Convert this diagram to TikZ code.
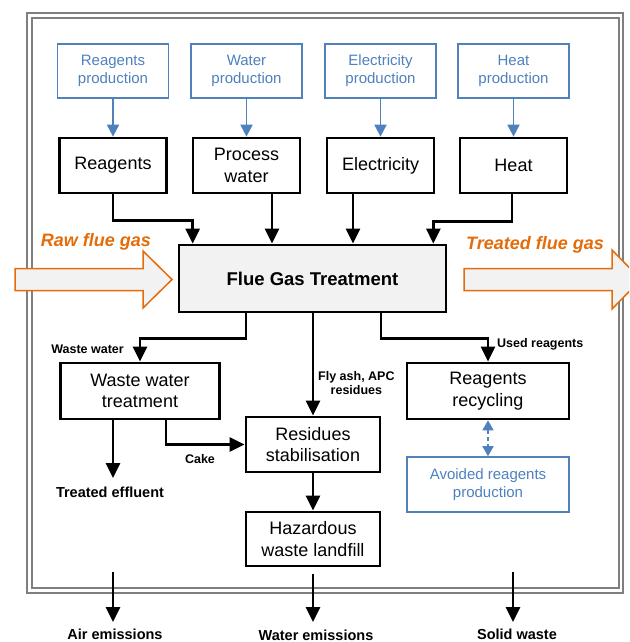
\documentclass[tikz,border=0pt]{standalone}
\usepackage{fontspec}
\setmainfont{Liberation Sans}
\usetikzlibrary{arrows.meta}
\definecolor{ablue}{HTML}{4F81BD}
\definecolor{aorange}{HTML}{E46C0A}
\definecolor{afill}{HTML}{F2F2F2}
\definecolor{agray}{HTML}{7F7F7F}
\begin{document}
\begin{tikzpicture}[x=1pt,y=-1pt,
 bluebox/.style={draw=ablue, line width=1.6pt, minimum width=111pt, minimum height=54pt, align=center, text=ablue, font=\fontsize{15}{18}\selectfont, inner sep=0pt},
 blackbox/.style={draw=black, line width=2.7pt, minimum width=107pt, minimum height=55pt, align=center, font=\fontsize{18}{21.5}\selectfont, inner sep=0pt},
 flow/.style={line width=2.7pt, -{Triangle[length=15pt,width=14pt]}},
 blueflow/.style={draw=ablue, line width=1.8pt, -{Triangle[length=12pt,width=12pt]}},
 lbl/.style={font=\bfseries\fontsize{12.5}{14.5}\selectfont, align=center, inner sep=0pt},
 outlbl/.style={font=\bfseries\fontsize{14.5}{16}\selectfont, inner sep=0pt},
 gaslbl/.style={font=\bfseries\itshape\fontsize{18}{20}\selectfont, text=aorange, inner sep=0pt},
 gasarrow/.style={draw=aorange, fill=afill, line width=1.5pt, line join=miter},
 frame/.style={draw=agray, line width=1.4pt}
]
\clip (0,0) rectangle (629,642);
\fill[white] (0,0) rectangle (629,642);
% frame
\draw[frame] (27,13) rectangle (623,593);
\draw[frame] (32,18) rectangle (619,588);

% production boxes
\node[bluebox] (rp) at (113,71) {Reagents\\production};
\node[bluebox] (wp) at (246.5,71) {Water\\production};
\node[bluebox] (ep) at (380.5,71) {Electricity\\production};
\node[bluebox] (hp) at (513.5,71) {Heat\\production};

% input boxes
\node[blackbox] (reag) at (113,165.5) {Reagents};
\node[blackbox] (pw) at (246.5,165.5) {Process\\water};
\node[blackbox] (el) at (380.5,165.5) {Electricity};
\node[blackbox] (heat) at (513.5,165.5) {Heat};

\draw[blueflow] (rp) -- (reag);
\draw[blueflow] (wp) -- (pw);
\draw[blueflow] (ep) -- (el);
\draw[blueflow] (hp) -- (heat);

% flue gas arrows
\draw[gasarrow] (15,268.5) -- (143,268.5) -- (143,251) -- (172,279.5) -- (143,308) -- (143,290.5) -- (15,290.5) -- cycle;
\draw[gasarrow] (464,268.5) -- (612,268.5) -- (612,250) -- (641,279.5) -- (612,309) -- (612,290.5) -- (464,290.5) -- cycle;
\node[gaslbl] (rawl) at (96,242) {Raw flue gas};
\node[gaslbl] (trl) at (535,245) {Treated flue gas};

% central box
\node[draw=black, fill=afill, line width=2.7pt, minimum width=267pt, minimum height=67pt, inner sep=0pt,
 font=\bfseries\fontsize{18.5}{21}\selectfont] (fgt) at (312.5,278.5) {Flue Gas Treatment};

\draw[flow] (reag.south) -- ++(0,26) -| ([xshift=15pt]fgt.north west);
\draw[flow] ([xshift=25.5pt]pw.south) -- ([xshift=25.5pt]pw.south |- fgt.north);
\draw[flow] ([xshift=-27.5pt]el.south) -- ([xshift=-27.5pt]el.south |- fgt.north);
\draw[flow] ([xshift=-1.5pt]heat.south) -- ++(0,27) -| ([xshift=-14pt]fgt.north east);

% treatment boxes
\node[blackbox, minimum width=159pt, minimum height=56pt] (wwt) at (140,391) {Waste water\\treatment};
\node[blackbox, minimum width=162pt, minimum height=56pt] (rec) at (488,391) {Reagents\\recycling};
\node[blackbox, minimum width=134pt, minimum height=55pt] (res) at (313,444.5) {Residues\\stabilisation};
\node[blackbox, minimum width=134pt, minimum height=54pt] (haz) at (313,539) {Hazardous\\waste landfill};
\node[bluebox, minimum width=162pt, minimum height=55pt] (avoid) at (488,484.5) {Avoided reagents\\production};

\draw[flow] ([xshift=-66.5pt]fgt.south) -- ++(0,25) -| (wwt.north);
\draw[flow] (fgt.south -| res.north) -- (res.north);
\draw[flow] ([xshift=68.5pt]fgt.south) -- ++(0,25) -| (rec.north);

\node[lbl, anchor=east] (wwl) at (124,349) {Waste water};
\node[lbl, anchor=west] (flyl) at (318,383) {Fly ash, APC\\residues};
\node[lbl, anchor=west] (usedl) at (497,344) {Used reagents};

% effluent and cake
\node[outlbl] (eff) at (110,492) {Treated effluent};
\coordinate (effend) at (113,478);
\draw[flow] (wwt.south -| effend) -- (effend);
\draw[flow] ([xshift=26pt]wwt.south) |- (res.west);
\node[lbl] (cakel) at (200,459) {Cake};

\draw[draw=ablue, line width=1.6pt, dash pattern=on 4pt off 3pt, {Triangle[length=10pt,width=11pt]}-{Triangle[length=10pt,width=11pt]}] (rec.south) -- (avoid.north);
\draw[flow] (res.south) -- (haz.north);

% outputs
\coordinate (a1) at (113,572);
\coordinate (a2) at (113,622);
\coordinate (w1) at (313,574);
\coordinate (w2) at (313,622);
\coordinate (s1) at (513,572);
\coordinate (s2) at (513,622);
\draw[flow] (a1) -- (a2);
\draw[flow] (w1) -- (w2);
\draw[flow] (s1) -- (s2);
\node[outlbl] (air) at (115,634.5) {Air emissions};
\node[outlbl] (wat) at (316,635) {Water emissions};
\node[outlbl] (sol) at (517,634.5) {Solid waste};
\end{tikzpicture}
\end{document}
